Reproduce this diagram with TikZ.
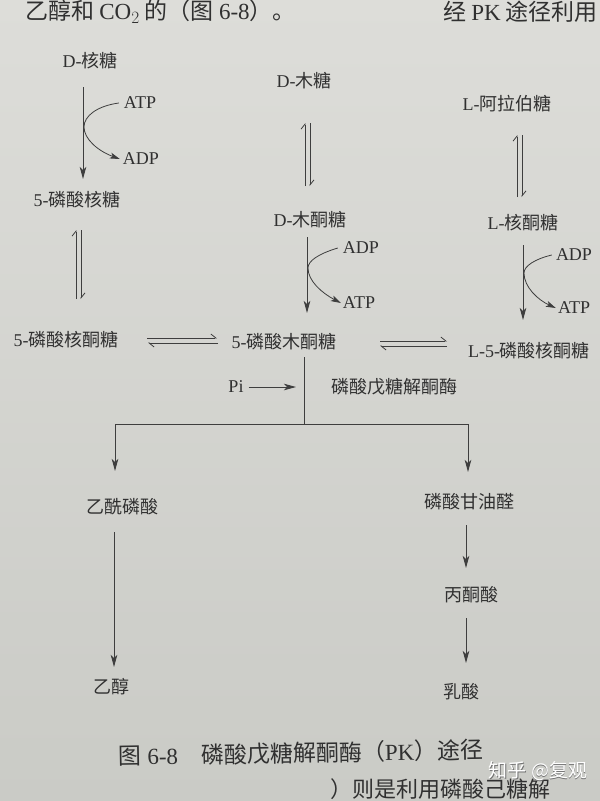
\documentclass[tikz,border=0pt]{standalone}
\usepackage{fontspec}
\setmainfont{Liberation Serif}
\newfontfamily\cjk{Noto Sans CJK SC}
\usetikzlibrary{arrows.meta,calc}
\definecolor{papertop}{RGB}{221,221,217}
\definecolor{paperbot}{RGB}{202,203,198}
\definecolor{ink}{RGB}{48,48,48}
\definecolor{lineink}{RGB}{62,62,62}
\definecolor{wmshadow}{RGB}{115,115,115}
\tikzset{
  lbl/.style={text=ink, inner sep=1pt, font=\fontsize{18}{21}\selectfont},
  body/.style={text=ink, inner sep=0pt, font=\fontsize{23}{26}\selectfont},
  arr/.style={draw=lineink, line width=0.9pt, -{Stealth[length=12pt,width=6.5pt,inset=3pt]}},
  side/.style={draw=lineink, line width=0.8pt, -{Stealth[length=10pt,width=6pt,inset=2.5pt]}},
  plainline/.style={draw=lineink, line width=0.9pt},
  harp/.style={draw=lineink, line width=0.8pt, -{Straight Barb[harpoon,length=5pt,width=8pt]}},
}
\begin{document}
\begin{tikzpicture}[x=1pt,y=-1pt]
\useasboundingbox (0,0) rectangle (600,801);
\shade[top color=papertop, bottom color=paperbot] (0,0) rectangle (600,801);

% body text of the page (top and bottom)
\node[body, anchor=west] (toptextL) at (25,12) {\cjk 乙醇和 {\rmfamily CO$_2$} 的（图 {\rmfamily 6-8}）。};
\node[body, anchor=east] (toptextR) at (598,12) {\cjk 经 {\rmfamily PK} 途径利用};
\node[body, anchor=west, font=\fontsize{22}{26}\selectfont] (bottext) at (330,789) {\cjk ）则是利用磷酸己糖解};

% labels
\node[lbl] (drib) at (90,61) {D-{\cjk 核糖}};
\node[lbl] (dxyl) at (304,81) {D-{\cjk 木糖}};
\node[lbl] (lara) at (507,104) {L-{\cjk 阿拉伯糖}};
\node[lbl] (atpA) at (140,103) {ATP};
\node[lbl] (adpA) at (141,159) {ADP};
\node[lbl] (r5p) at (77,200) {5-{\cjk 磷酸核糖}};
\node[lbl] (dxu) at (310,220) {D-{\cjk 木酮糖}};
\node[lbl] (lru) at (523,223) {L-{\cjk 核酮糖}};
\node[lbl] (adpB) at (361,248) {ADP};
\node[lbl] (atpB) at (359,303) {ATP};
\node[lbl] (adpC) at (574,255) {ADP};
\node[lbl] (atpC) at (574,308) {ATP};
\node[lbl] (ru5p) at (66,340) {5-{\cjk 磷酸核酮糖}};
\node[lbl] (xu5p) at (284,342) {5-{\cjk 磷酸木酮糖}};
\node[lbl] (lru5p) at (529,351) {L-5-{\cjk 磷酸核酮糖}};
\node[lbl] (pi) at (236,387) {Pi};
\node[lbl] (pk) at (394,387) {\cjk 磷酸戊糖解酮酶};
\node[lbl] (acp) at (122,507) {\cjk 乙酰磷酸};
\node[lbl] (gap) at (469,502) {\cjk 磷酸甘油醛};
\node[lbl] (pyr) at (471,595) {\cjk 丙酮酸};
\node[lbl] (etoh) at (111,687) {\cjk 乙醇};
\node[lbl] (lac) at (461,692) {\cjk 乳酸};
\node[lbl, font=\fontsize{23}{26}\selectfont, rotate=1] (caption) at (301,753)
  {{\cjk 图} 6-8\hspace{1em}{\cjk 磷酸戊糖解酮酶（}PK{\cjk ）途径}};
\node[inner sep=0pt, text=wmshadow, font=\cjk\fontsize{19}{22}\selectfont] (wmS) at (538.8,771.8) {知乎 @复观};
\node[inner sep=0pt, text=white, font=\cjk\fontsize{19}{22}\selectfont] (wm) at (538,771) {知乎 @复观};

% connector end points
\coordinate (a1s) at (83,87);   \coordinate (a1e) at (83,179);
\coordinate (a2s) at (307,237); \coordinate (a2e) at (307,313);
\coordinate (a3s) at (523,245); \coordinate (a3e) at (523,320);
\coordinate (tA) at (84,127);
\coordinate (tB) at (308,268);
\coordinate (tC) at (524,273);

% main kinase arrows
\draw[arr] (a1s) -- (a1e);
\draw[arr] (a2s) -- (a2e);
\draw[arr] (a3s) -- (a3e);

% side arrows (ATP/ADP)
\draw[side] ([xshift=-4pt]atpA.west) .. controls (97,106) and (84,116) .. (tA)
  .. controls (84,139) and (98,151) .. ([xshift=-2pt]adpA.west);
\draw[side] ([xshift=-4pt]adpB.west) .. controls (318,254) and (308,261) .. (tB)
  .. controls (308,281) and (322,293) .. ([xshift=-1pt]atpB.west);
\draw[side] ([xshift=-3pt]adpC.west) .. controls (535,259) and (524,266) .. (tC)
  .. controls (524,287) and (538,300) .. ([xshift=-1pt]atpC.west);

% reversible harpoon pairs
\coordinate (hA1) at (76,230); \coordinate (hA2) at (76,299);
\coordinate (hA3) at (81,230); \coordinate (hA4) at (81,299);
\draw[harp] (hA2) -- (hA1);
\draw[harp] (hA3) -- (hA4);
\coordinate (hB1) at (305,123); \coordinate (hB2) at (305,186);
\coordinate (hB3) at (310,123); \coordinate (hB4) at (310,186);
\draw[harp] (hB2) -- (hB1);
\draw[harp] (hB3) -- (hB4);
\coordinate (hC1) at (517,135); \coordinate (hC2) at (517,197);
\coordinate (hC3) at (522,135); \coordinate (hC4) at (522,197);
\draw[harp] (hC2) -- (hC1);
\draw[harp] (hC3) -- (hC4);
\coordinate (hD1) at (147,338); \coordinate (hD2) at (217,338);
\coordinate (hD3) at (148,343); \coordinate (hD4) at (218,343);
\draw[harp] (hD1) -- (hD2);
\draw[harp] (hD4) -- (hD3);
\coordinate (hE1) at (380,341); \coordinate (hE2) at (447,341);
\coordinate (hE3) at (380,346); \coordinate (hE4) at (447,346);
\draw[harp] (hE1) -- (hE2);
\draw[harp] (hE4) -- (hE3);

% phosphoketolase split
\coordinate (pkTop) at (304,357);
\coordinate (pkMid) at (304,424);
\coordinate (brL) at (115,424);
\coordinate (brR) at (468,424);
\coordinate (brLe) at (115,471);
\coordinate (brRe) at (468,472);
\draw[arr] ([xshift=4pt]pi.east) -- ([xshift=-8pt]pi.east -| pkTop);
\draw[plainline] (pkTop) -- (pkMid);
\draw[plainline] (brL) -- (brR);
\draw[arr] (brL) -- (brLe);
\draw[arr] (brR) -- (brRe);

% lower arrows
\coordinate (l1s) at (114,532); \coordinate (l1e) at (114,667);
\coordinate (r1s) at (466,525); \coordinate (r1e) at (466,568);
\coordinate (r2s) at (466,618); \coordinate (r2e) at (466,663);
\draw[arr] (l1s) -- (l1e);
\draw[arr] (r1s) -- (r1e);
\draw[arr] (r2s) -- (r2e);
\end{tikzpicture}
\end{document}
